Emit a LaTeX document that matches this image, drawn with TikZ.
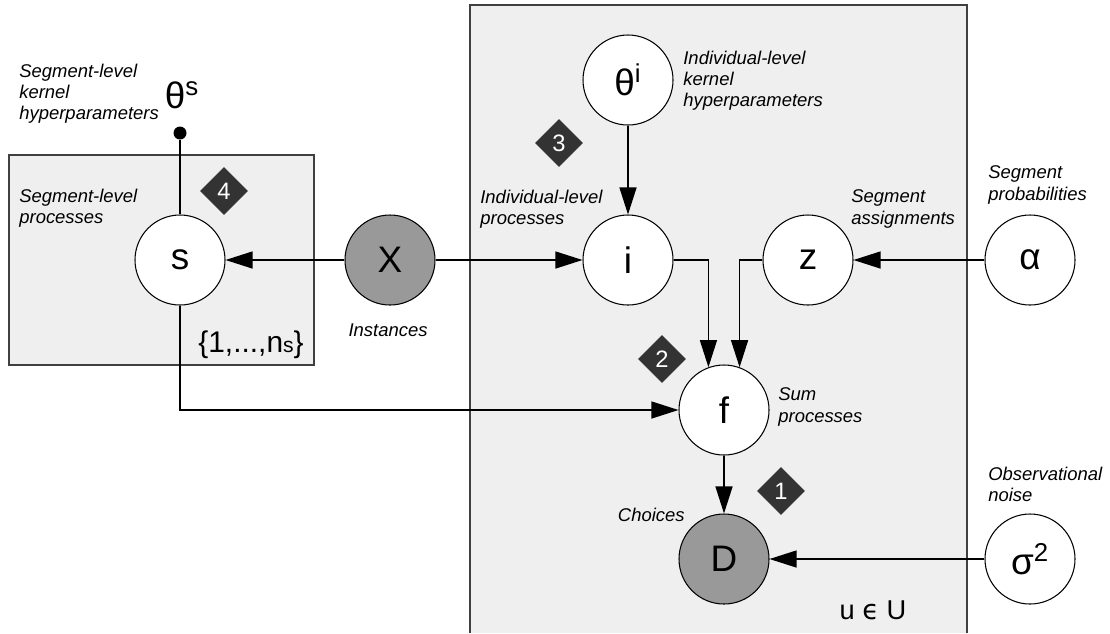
\documentclass[tikz,border=0pt]{standalone}
\usepackage{fontspec}
\setmainfont{Liberation Sans}
\newfontfamily\dejavu{DejaVu Sans}
\usetikzlibrary{shapes, arrows.meta}
\definecolor{plategray}{HTML}{EFEFEF}
\definecolor{obsgray}{HTML}{999999}
\definecolor{badgegray}{HTML}{333333}
\tikzstyle{latent} = [circle, draw, line width=0.6pt, fill=white, minimum size=1.8cm, inner sep=0pt, font=\fontsize{21}{25}\selectfont]
\tikzstyle{observed} = [latent, fill=obsgray]
\tikzstyle{badge} = [diamond, fill=badgegray, text=white, minimum width=0.96cm, minimum height=0.96cm, inner sep=0pt, font=\fontsize{13.5}{15}\selectfont]
\tikzstyle{annotation} = [align=left, inner sep=0pt, font=\fontsize{10.5}{12}\selectfont\itshape]
\tikzstyle{plate} = [fill=plategray, draw=black!75, line width=0.6pt]
\tikzstyle{connector} = [draw, line width=0.7pt, -{Triangle[length=0.54cm, width=0.34cm]}]
\tikzstyle{link} = [draw, line width=0.7pt]

\begin{document}
\begin{tikzpicture}
\useasboundingbox (0,0) rectangle (22.2,-12.66);

% plates
\path [plate] (0.18,-3.1) rectangle (6.28,-7.3);
\fill [plategray] (9.4,-0.1) rectangle (19.34,-12.66);
\draw [black!75, line width=0.6pt] (9.4,-12.66) -- (9.4,-0.1) -- (19.34,-0.1) -- (19.34,-12.66);

\node[latent] at (3.6,-5.2) (segment) {s};
\node[observed] at (7.8,-5.2) (instances) {X};
\node[latent] at (12.56,-5.2) (individual) {i};
\node[latent] at (12.56,-1.6) (thetaI) {θ\textsuperscript{i}};
\node[latent] at (16.16,-5.2) (assign) {z};
\node[latent] at (20.6,-5.2) (alpha) {α};
\node[latent] at (14.48,-8.2) (sum) {f};
\node[observed] at (14.48,-11.18) (choices) {D};
\node[latent] at (20.6,-11.18) (noise) {σ\textsuperscript{2}};

\node[circle, fill=black, minimum size=0.26cm, inner sep=0pt] at (3.6,-2.66) (thetaSDot) {};
\node[inner sep=0pt, font=\fontsize{21}{25}\selectfont] at (3.64,-1.9) (thetaS) {θ\textsuperscript{s}};

\node[badge] at (4.48,-3.82) (badgeFour) {4};
\node[badge] at (11.18,-2.86) (badgeThree) {3};
\node[badge] at (13.24,-7.18) (badgeTwo) {2};
\node[badge] at (15.62,-9.82) (badgeOne) {1};

\node[annotation, anchor=west] at (0.38,-1.88) (thetaSText) {Segment-level\\kernel\\hyperparameters};
\node[annotation, anchor=west] at (0.38,-4.16) (segmentText) {Segment-level\\processes};
\node[annotation, anchor=west] at (13.66,-1.62) (thetaIText) {Individual-level\\kernel\\hyperparameters};
\node[annotation, anchor=west] at (9.6,-4.18) (individualText) {Individual-level\\processes};
\node[annotation, anchor=west] at (17.02,-4.18) (assignText) {Segment\\assignments};
\node[annotation, anchor=west] at (19.76,-3.7) (alphaText) {Segment\\probabilities};
\node[annotation] at (7.76,-6.6) (instancesText) {Instances};
\node[annotation, anchor=west] at (15.56,-8.14) (sumText) {Sum\\processes};
\node[annotation, anchor=east] at (13.7,-10.3) (choicesText) {Choices};
\node[annotation, anchor=west] at (19.76,-9.68) (noiseText) {Observational\\noise};

\node[inner sep=0pt, font=\fontsize{17}{20}\selectfont] at (5.02,-6.9) (segmentRange) {\{1,...,n{\fontsize{12}{14}\selectfont s}\}};
\node[inner sep=0pt, font=\fontsize{15.5}{18}\selectfont] at (17.46,-12.2) (userRange) {u {\dejavu ϵ} U};

\path [link] (thetaSDot) -- (segment);
\path [connector] (instances) -- (segment);
\path [connector] (instances) -- (individual);
\path [connector] (thetaI) -- (individual);
\path [connector] (alpha) -- (assign);
\path [connector] (individual.east) -| (sum.110);
\path [connector] (assign.west) -| (sum.70);
\path [connector] (segment.south) |- (sum.west);
\path [connector] (sum) -- (choices);
\path [connector] (noise) -- (choices);

\end{tikzpicture}
\end{document}
